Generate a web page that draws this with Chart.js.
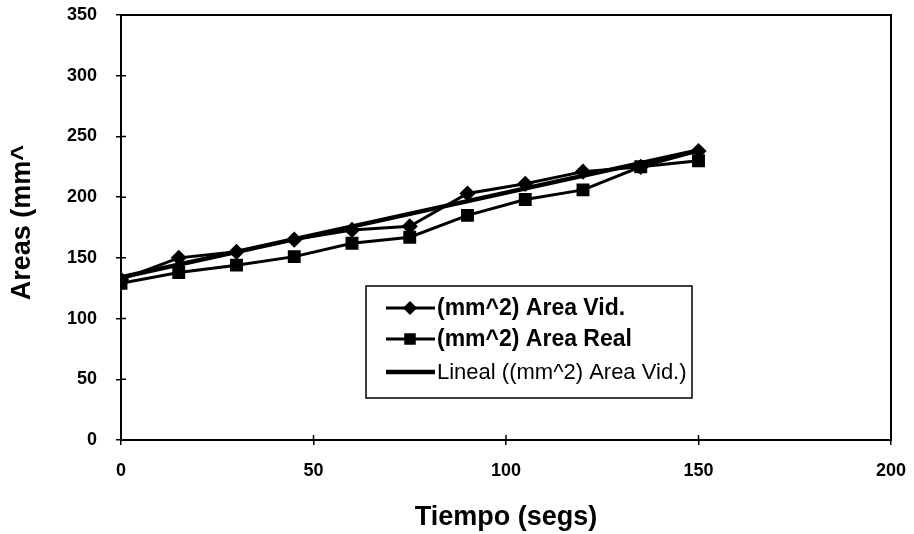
<!DOCTYPE html>
<html lang="es">
<head>
<meta charset="UTF-8">
<title>Areas vs Tiempo</title>
<script src="https://cdn.jsdelivr.net/npm/chart.js"></script>
<style>
    html, body { margin: 0; padding: 0; background: #fff; }
    #wrap { width: 914px; height: 534px; position: relative; }
</style>
</head>
<body>
<div id="wrap"><canvas id="areaChart"></canvas></div>
<script>
// valores
const tiempos = [0, 15, 30, 45, 60, 75, 90, 105, 120, 135, 150];
const areaVid = [132, 150, 155, 165, 173, 176, 203, 211, 221, 225, 238];
const areaReal = [129, 138, 144, 151, 162, 167, 185, 198, 206, 225, 230];
const xTicks = [0, 50, 100, 150, 200];
const yTicks = [0, 50, 100, 150, 200, 250, 300, 350];
const seriesLabels = ['(mm^2) Area Vid.', '(mm^2) Area Real', 'Lineal ((mm^2) Area Vid.)'];
const xTitle = 'Tiempo (segs)';
const yTitle = 'Areas (mm^';

const FONT = '"Liberation Sans", Arial, sans-serif';

// tendencia lineal por minimos cuadrados (como la de Excel)
function linearFit(xs, ys) {
    const n = xs.length;
    const mx = xs.reduce((a, b) => a + b, 0) / n;
    const my = ys.reduce((a, b) => a + b, 0) / n;
    let sxy = 0, sxx = 0;
    xs.forEach((x, i) => {
        sxy += (x - mx) * (ys[i] - my);
        sxx += (x - mx) * (x - mx);
    });
    const slope = sxy / sxx;
    return { slope, intercept: my - slope * mx };
}

const fit = linearFit(tiempos, areaVid);
const xEnds = [tiempos[0], tiempos[tiempos.length - 1]];
const trendPoints = xEnds.map(x => ({ x, y: fit.intercept + fit.slope * x }));

const toPoints = (ys) => tiempos.map((x, i) => ({ x, y: ys[i] }));

// marco completo + marcas de division hacia adentro
const framePlugin = {
    id: 'frame',
    afterDraw(chart) {
        const { ctx, chartArea: a, scales } = chart;
        ctx.save();
        ctx.strokeStyle = '#000';
        ctx.lineWidth = 2;
        ctx.strokeRect(a.left, a.top, a.right - a.left, a.bottom - a.top);
        ctx.lineWidth = 1.5;
        ctx.beginPath();
        scales.x.ticks.forEach(t => {
            const px = scales.x.getPixelForValue(t.value);
            ctx.moveTo(px, a.bottom);
            ctx.lineTo(px, a.bottom - 5);
        });
        scales.y.ticks.forEach(t => {
            const py = scales.y.getPixelForValue(t.value);
            ctx.moveTo(a.left, py);
            ctx.lineTo(a.left + 5, py);
        });
        ctx.stroke();
        ctx.restore();
    }
};

// titulo vertical (queda cortado en el original)
const yTitlePlugin = {
    id: 'yTitle',
    afterDraw(chart) {
        const { ctx } = chart;
        ctx.save();
        ctx.translate(23, 145);
        ctx.rotate(-Math.PI / 2);
        ctx.font = 'bold 27px ' + FONT;
        ctx.fillStyle = '#000';
        ctx.textAlign = 'right';
        ctx.textBaseline = 'middle';
        ctx.fillText(yTitle, 0, 0);
        ctx.restore();
    }
};

// leyenda dentro del area de trazado
const legendBoxPlugin = {
    id: 'legendBox',
    afterDraw(chart) {
        const { ctx } = chart;
        const box = { left: 366, top: 286, right: 692, bottom: 398 };
        const rowsY = [308, 339, 372];
        const marker = [5, 6];
        ctx.save();
        ctx.fillStyle = '#fff';
        ctx.fillRect(box.left, box.top, box.right - box.left, box.bottom - box.top);
        ctx.strokeStyle = '#000';
        ctx.lineWidth = 1.5;
        ctx.strokeRect(box.left, box.top, box.right - box.left, box.bottom - box.top);
        chart.data.datasets.forEach((ds, i) => {
            const y = rowsY[i];
            ctx.strokeStyle = '#000';
            ctx.lineWidth = ds.borderWidth;
            ctx.beginPath();
            ctx.moveTo(386, y);
            ctx.lineTo(435, y);
            ctx.stroke();
            if (ds.pointRadius > 0) {
                ctx.fillStyle = '#000';
                Chart.helpers.drawPoint(ctx, {
                    pointStyle: ds.pointStyle,
                    radius: marker[i],
                    rotation: 0,
                    borderWidth: 1
                }, 410, y);
            }
            ctx.fillStyle = '#000';
            ctx.textBaseline = 'middle';
            ctx.textAlign = 'left';
            ctx.font = i < 2 ? 'bold 23px ' + FONT : '22px ' + FONT;
            ctx.fillText(ds.label, 437, y + 1);
        });
        ctx.restore();
    }
};

Chart.defaults.font.family = FONT;
Chart.defaults.color = '#000';

// sin relleno automatico para las etiquetas extremas
const noEdgePadding = (s) => {
    s.paddingTop = 0;
    s.paddingBottom = 0;
    s.paddingLeft = 0;
    s.paddingRight = 0;
};

new Chart(document.getElementById('areaChart'), {
    type: 'line',
    data: {
        datasets: [
            {
                label: seriesLabels[0],
                data: toPoints(areaVid),
                borderColor: '#000',
                backgroundColor: '#000',
                borderWidth: 3,
                pointStyle: 'rectRot',
                pointRadius: 6,
                pointBackgroundColor: '#000',
                pointBorderColor: '#000',
                tension: 0
            },
            {
                label: seriesLabels[1],
                data: toPoints(areaReal),
                borderColor: '#000',
                backgroundColor: '#000',
                borderWidth: 3,
                pointStyle: 'rect',
                pointRadius: 7,
                pointBackgroundColor: '#000',
                pointBorderColor: '#000',
                tension: 0
            },
            {
                label: seriesLabels[2],
                data: trendPoints,
                borderColor: '#000',
                borderWidth: 4.5,
                pointRadius: 0,
                tension: 0
            }
        ]
    },
    options: {
        responsive: true,
        maintainAspectRatio: false,
        animation: false,
        layout: { padding: { top: 15, right: 23, left: 0, bottom: 0 } },
        plugins: {
            legend: { display: false },
            tooltip: { enabled: false }
        },
        scales: {
            x: {
                type: 'linear',
                min: xTicks[0],
                max: xTicks[xTicks.length - 1],
                afterBuildTicks: (s) => { s.ticks = xTicks.map(v => ({ value: v })); },
                afterFit: (s) => { s.height = 94; noEdgePadding(s); },
                ticks: { font: { size: 18, weight: 'bold' }, padding: 15, maxRotation: 0 },
                grid: { drawOnChartArea: false, color: '#000', lineWidth: 1.5, tickLength: 5 },
                border: { color: '#000', width: 2 },
                title: {
                    display: true,
                    text: xTitle,
                    font: { size: 27, weight: 'bold' },
                    padding: { top: 12, bottom: 0 }
                }
            },
            y: {
                min: yTicks[0],
                max: yTicks[yTicks.length - 1],
                afterBuildTicks: (s) => { s.ticks = yTicks.map(v => ({ value: v })); },
                afterFit: (s) => { s.width = 121; noEdgePadding(s); },
                ticks: { font: { size: 18, weight: 'bold' }, padding: 19 },
                grid: { drawOnChartArea: false, color: '#000', lineWidth: 1.5, tickLength: 5 },
                border: { color: '#000', width: 2 }
            }
        }
    },
    plugins: [framePlugin, yTitlePlugin, legendBoxPlugin]
});
</script>
</body>
</html>
